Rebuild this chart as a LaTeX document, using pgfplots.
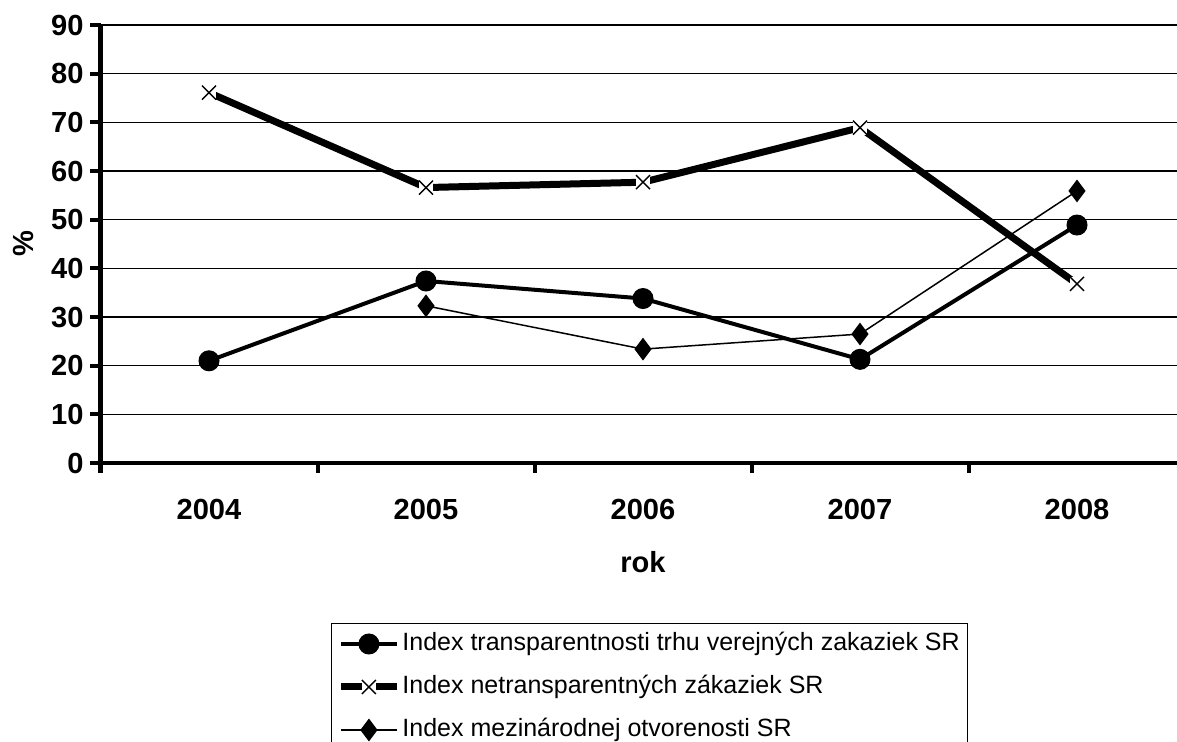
\documentclass[border=0pt]{standalone}
\usepackage{fontspec}
\setmainfont{Liberation Sans}
\usepackage{pgfplots}
\pgfplotsset{compat=1.18}

% x mark on a white square, so the thick line stops at the mark
\pgfdeclareplotmark{wx}{%
  \pgfpathrectangle{\pgfqpoint{-\pgfplotmarksize}{-\pgfplotmarksize}}{\pgfqpoint{2\pgfplotmarksize}{2\pgfplotmarksize}}%
  \pgfsetfillcolor{white}\pgfusepath{fill}%
  \pgfpathmoveto{\pgfqpoint{-\pgfplotmarksize}{-\pgfplotmarksize}}%
  \pgfpathlineto{\pgfqpoint{\pgfplotmarksize}{\pgfplotmarksize}}%
  \pgfpathmoveto{\pgfqpoint{-\pgfplotmarksize}{\pgfplotmarksize}}%
  \pgfpathlineto{\pgfqpoint{\pgfplotmarksize}{-\pgfplotmarksize}}%
  \pgfusepath{stroke}}

\newcommand\lblfont{\fontsize{14.6}{17}\selectfont\bfseries}

\begin{document}
\begin{tikzpicture}
\useasboundingbox (0,0) rectangle (588.5bp,371bp);
\clip (0,0) rectangle (588.5bp,371bp);
\begin{axis}[
    at={(50.25bp,139.5bp)}, anchor=south west,
    width=542.5bp, height=219bp, scale only axis,
    xmin=-0.5, xmax=4.5, ymin=0, ymax=90,
    axis x line*=bottom, axis y line*=left,
    axis line style={line width=2bp, -},
    xtick={-0.5,0.5,...,4.5}, xticklabels={},
    extra x ticks={0,1,2,3,4},
    extra x tick labels={2004,2005,2006,2007,2008},
    extra x tick style={major tick length=0pt, xticklabel style={yshift=-14.5bp}},
    ytick={0,10,...,90},
    ymajorgrids,
    grid style={black, line width=0.6bp},
    tick align=outside,
    major tick length=5bp,
    tick style={black, line width=2bp},
    ticklabel style={font=\lblfont},
    /pgf/number format/assume math mode=true,
    xlabel={rok}, ylabel={\%},
    label style={font=\lblfont},
    xlabel style={at={(axis description cs:0.5,0)}, anchor=center, yshift=-49.5bp},
    ylabel style={at={(axis description cs:0,0.5)}, anchor=center, yshift=38.75bp},
    legend style={at={(0.2124,-0.3653)}, anchor=north west,
        draw=black, line width=0.5bp, inner ysep=3.5bp,
        font=\fontsize{12.55}{14}\selectfont,
        cells={anchor=west},
        nodes={inner sep=1bp, text height=9bp, text depth=2.5bp},
        row sep=8bp},
    legend image code/.code={%
        \draw[mark repeat=2, mark phase=2, #1] plot coordinates {(0bp,0bp) (14bp,0bp) (28bp,0bp)};},
]
\addplot[black, line width=2bp, mark=*, mark size=5bp, mark options={solid, line width=0.5bp}]
  coordinates {(0,21.0) (1,37.4) (2,33.8) (3,21.3) (4,48.9)};
\addlegendentry{Index transparentnosti trhu verejných zakaziek SR}
\addplot[black, line width=3.5bp, mark=wx, mark size=3.5bp, mark options={solid, line width=0.7bp}]
  coordinates {(0,76.1) (1,56.6) (2,57.7) (3,68.9) (4,36.8)};
\addlegendentry{Index netransparentných zákaziek SR}
\addplot[black, line width=0.75bp, mark=diamond*, mark size=5.3bp, mark options={solid, line width=0.5bp}]
  coordinates {(1,32.3) (2,23.4) (3,26.5) (4,55.9)};
\addlegendentry{Index mezinárodnej otvorenosti SR}
\end{axis}
\end{tikzpicture}
\end{document}
